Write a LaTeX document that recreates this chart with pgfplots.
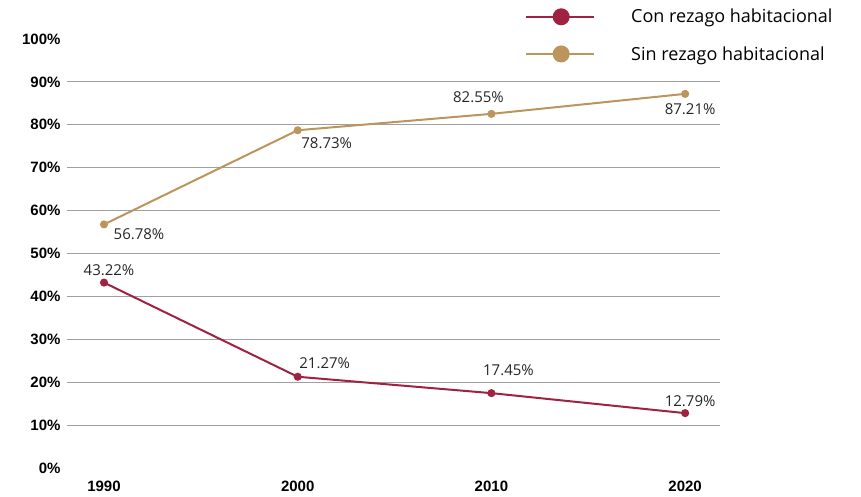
\documentclass[border=0pt]{standalone}
\usepackage{fontspec}
\usepackage{pgfplots}
\pgfplotsset{compat=1.18}
\setmainfont{Open Sans}
\newfontfamily\tickfont{Liberation Sans}
\definecolor{guinda}{HTML}{9F2241}
\definecolor{dorado}{HTML}{BC955C}
\definecolor{gridgray}{HTML}{A0A0A0}

\begin{document}
\begin{tikzpicture}
  \path[use as bounding box] (-67pt,-28pt) rectangle (794pt,468pt);
  \begin{axis}[
      at={(0pt,0pt)}, anchor=south west,
      scale only axis,
      width=653pt, height=429pt,
      xmin=1988.09, xmax=2021.8,
      ymin=0, ymax=100,
      axis lines=none,
      xtick={1990,2000,2010,2020},
      ytick={0,10,...,100},
      extra y ticks={10,20,...,90},
      extra y tick labels={},
      extra y tick style={grid=major, major tick length=0pt},
      major grid style={gridgray, line width=1.2pt},
      major tick length=0pt,
      hide x axis=false, hide y axis=false,
      axis x line*=bottom, axis y line*=left,
      x axis line style={draw=none},
      y axis line style={draw=none},
      /pgf/number format/assume math mode=true,
      /pgf/number format/1000 sep={},
      ticklabel style={font=\tickfont\bfseries\fontsize{15}{18}\selectfont},
      yticklabel={\pgfmathprintnumber{\tick}\%},
      yticklabel style={xshift=-3pt},
      xticklabel style={yshift=-9pt},
      legend style={
        at={(458pt,461pt)}, anchor=north west,
        draw=none, fill=none, inner sep=0pt,
        font=\fontsize{18}{22}\selectfont,
        row sep=18pt, column sep=0pt,
        /tikz/every odd column/.append style={column sep=34pt},
      },
      legend cell align=left,
    ]
    \addplot[guinda, line width=2pt, mark=*, mark size=3pt,
      legend image code/.code={
        \draw[guinda, line width=2pt] (0pt,0pt) -- (68pt,0pt);
        \fill[guinda] (35pt,0pt) circle (7.5pt);
      }] coordinates {
      (1990,43.22) (2000,21.27) (2010,17.45) (2020,12.79)
    };
    \addlegendentry{Con rezago habitacional}
    \addplot[dorado, line width=2pt, mark=*, mark size=3pt,
      legend image code/.code={
        \draw[dorado, line width=2pt] (0pt,0pt) -- (68pt,0pt);
        \fill[dorado] (35pt,0pt) circle (7.5pt);
      }] coordinates {
      (1990,56.78) (2000,78.73) (2010,82.55) (2020,87.21)
    };
    \addlegendentry{Sin rezago habitacional}

    \begin{scope}[every node/.style={font=\fontsize{15}{18}\selectfont, inner sep=0pt, text=black!85}]
      \node at ([shift={(35pt,-9.5pt)}]axis cs:1990,56.78) {56.78\%};
      \node at ([shift={(29pt,-13pt)}]axis cs:2000,78.73) {78.73\%};
      \node at ([shift={(-13pt,16.5pt)}]axis cs:2010,82.55) {82.55\%};
      \node at ([shift={(5pt,-15pt)}]axis cs:2020,87.21) {87.21\%};
      \node at ([shift={(5pt,12.5pt)}]axis cs:1990,43.22) {43.22\%};
      \node at ([shift={(27pt,14pt)}]axis cs:2000,21.27) {21.27\%};
      \node at ([shift={(17pt,22.5pt)}]axis cs:2010,17.45) {17.45\%};
      \node at ([shift={(5pt,12pt)}]axis cs:2020,12.79) {12.79\%};
    \end{scope}
  \end{axis}
\end{tikzpicture}
\end{document}
